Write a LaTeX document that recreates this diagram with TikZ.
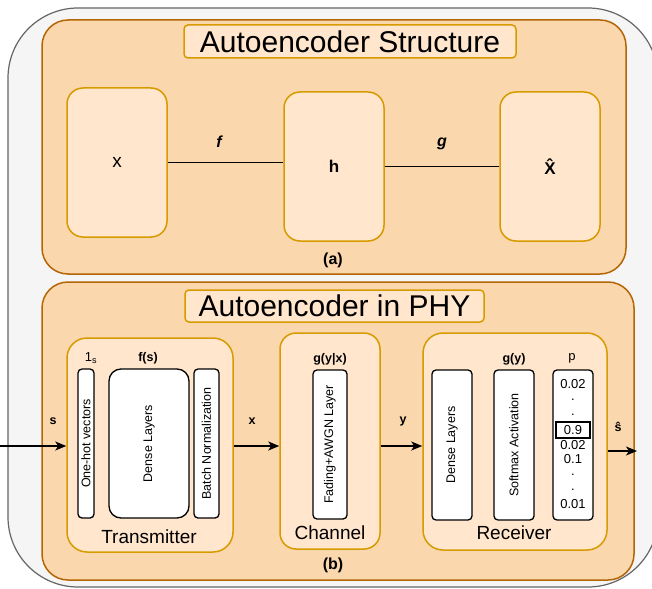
\documentclass[tikz,border=0pt]{standalone}
\usepackage{fontspec}
\setmainfont{Liberation Sans}
\usetikzlibrary{arrows.meta}
\definecolor{panelfill}{HTML}{FAD7AC}
\definecolor{paneldraw}{HTML}{B46504}
\definecolor{unitfill}{HTML}{FFE6CC}
\definecolor{unitdraw}{HTML}{D79B00}
\definecolor{outerfill}{HTML}{F5F5F5}
\definecolor{outerdraw}{HTML}{666666}
\newcommand\fsz[1]{\fontsize{#1}{#1}\selectfont}
\begin{document}
\begin{tikzpicture}[x=1pt,y=-1pt,
  outerbox/.style={draw=outerdraw, fill=outerfill, line width=1.2pt, rounded corners=70pt},
  panel/.style={draw=paneldraw, fill=panelfill, line width=1.5pt, rounded corners=26pt, inner sep=0pt},
  unit/.style={draw=unitdraw, fill=unitfill, line width=1.5pt, rounded corners=16pt, inner sep=0pt},
  titlebox/.style={draw=unitdraw, fill=unitfill, line width=1.5pt, rounded corners=4pt, inner sep=0pt, font=\fsz{30}},
  layer/.style={draw=black, fill=white, line width=1.3pt, rounded corners=4pt, inner sep=0pt},
  link/.style={line width=1.6pt},
  arr/.style={line width=1.5pt, -{Stealth[length=11pt,width=9pt,inset=3pt]}},
  lbl/.style={inner sep=0pt, font=\fsz{13}},
  blbl/.style={inner sep=0pt, font=\fsz{12.5}\bfseries},
  vlbl/.style={inner sep=0pt, rotate=90, font=\fsz{12.5}},
  caption/.style={inner sep=0pt, font=\fsz{19}},
]
\useasboundingbox (0,0) rectangle (652,588);

% outer frame
\path[outerbox] (8,8) rectangle (658,587);

% ---------- (a) autoencoder structure ----------
\node[panel, minimum width=584pt, minimum height=254pt] (pa) at (334,147) {};
\node[titlebox, minimum width=332pt, minimum height=33pt] (ta) at (350,41.5) {Autoencoder Structure};
\node[unit, minimum width=100pt, minimum height=149pt, font=\fsz{19}] (xin) at (117,162.5) {x};
\node[unit, minimum width=100pt, minimum height=149pt, font=\fsz{17}\bfseries] (hid) at (334,166.5) {h};
\node[unit, minimum width=100pt, minimum height=149pt, font=\fsz{17}\bfseries] (xout) at (550,166.5) {\^{X}};
\draw[link] (xin.east) -- (xin.east -| hid.west);
\draw[link] (hid.east) -- (xout.west);
\node[inner sep=0pt, font=\fsz{16}\bfseries\itshape] (flbl) at (219,142) {f};
\node[inner sep=0pt, font=\fsz{16}\bfseries\itshape] (glbl) at (442,144) {g};
\node[inner sep=0pt, font=\fsz{16}\bfseries] (capa) at (333,260) {(a)};

% ---------- (b) autoencoder in PHY ----------
\node[panel, minimum width=592pt, minimum height=298pt] (pb) at (338,431) {};
\node[titlebox, minimum width=299pt, minimum height=32pt] (tb) at (334.5,306) {Autoencoder in PHY};

% transmitter
\node[unit, minimum width=166pt, minimum height=214pt, rounded corners=20pt] (tx) at (150,445) {};
\node[layer, minimum width=16pt, minimum height=149pt] (onehot) at (86,443.5) {};
\node[layer, minimum width=80pt, minimum height=149pt, rounded corners=12pt] (dtx) at (149,443.5) {};
\node[layer, minimum width=25pt, minimum height=149pt] (bn) at (206.5,443.5) {};
\node[vlbl] (onehott) at (onehot) {One-hot vectors};
\node[vlbl] (dtxt) at (dtx) {Dense Layers};
\node[vlbl] (bnt) at (bn) {Batch Normalization};
\node[lbl] (ones) at (91,358) {1\textsubscript{s}};
\node[blbl] (fs) at (148,358) {f(s)};
\node[caption] (txc) at (149,537) {Transmitter};

% channel
\node[unit, minimum width=100pt, minimum height=216pt, rounded corners=16pt] (ch) at (330,441) {};
\node[layer, minimum width=34pt, minimum height=149pt] (fad) at (330,444.5) {};
\node[vlbl] (fadt) at (fad) {Fading+AWGN Layer};
\node[blbl] (gyx) at (330,359) {g(y|x)};
\node[caption] (chc) at (330,533) {Channel};

% receiver
\node[unit, minimum width=184pt, minimum height=217pt, rounded corners=20pt] (rx) at (515,441.5) {};
\node[layer, minimum width=40pt, minimum height=150pt] (drx) at (452,445) {};
\node[layer, minimum width=40pt, minimum height=150pt] (smx) at (514,445) {};
\node[layer, minimum width=40pt, minimum height=150pt] (pcol) at (573,445) {};
\node[vlbl] (drxt) at (drx) {Dense Layers};
\node[vlbl] (smxt) at (smx) {Softmax Activation};
\node[blbl] (gy) at (514,359) {g(y)};
\node[lbl] (plbl) at (572,358) {p};
\node[lbl] (p1) at (573,384) {0.02};
\node[lbl] (p2) at (573,400) {.};
\node[lbl] (p3) at (573,415) {.};
\node[draw=black, line width=1.3pt, minimum width=34pt, minimum height=16pt, inner sep=0pt, font=\fsz{13}] (pmax) at (573,430) {0.9};
\node[lbl] (p4) at (573,445) {0.02};
\node[lbl] (p5) at (573,459) {0.1};
\node[lbl] (p6) at (573,475) {.};
\node[lbl] (p7) at (573,490) {.};
\node[lbl] (p8) at (573,504) {0.01};
\node[caption] (rxc) at (514,533) {Receiver};

% signal flow
\coordinate (sin) at (0,446);
\coordinate (sout) at (637,451);
\draw[arr] (sin) -- (sin -| tx.west);
\draw[arr] (tx.east |- sin) -- (ch.west |- sin);
\draw[arr] (ch.east |- sin) -- (rx.west |- sin);
\draw[arr] (rx.east |- sout) -- (sout);
\node[blbl] (slbl) at (53,421) {s};
\node[blbl] (xlbl) at (252,421) {x};
\node[blbl] (ylbl) at (403,421) {y};
\node[blbl] (shat) at (618,427) {\^{s}};
\node[inner sep=0pt, font=\fsz{16}\bfseries] (capb) at (333,565) {(b)};
\end{tikzpicture}
\end{document}
